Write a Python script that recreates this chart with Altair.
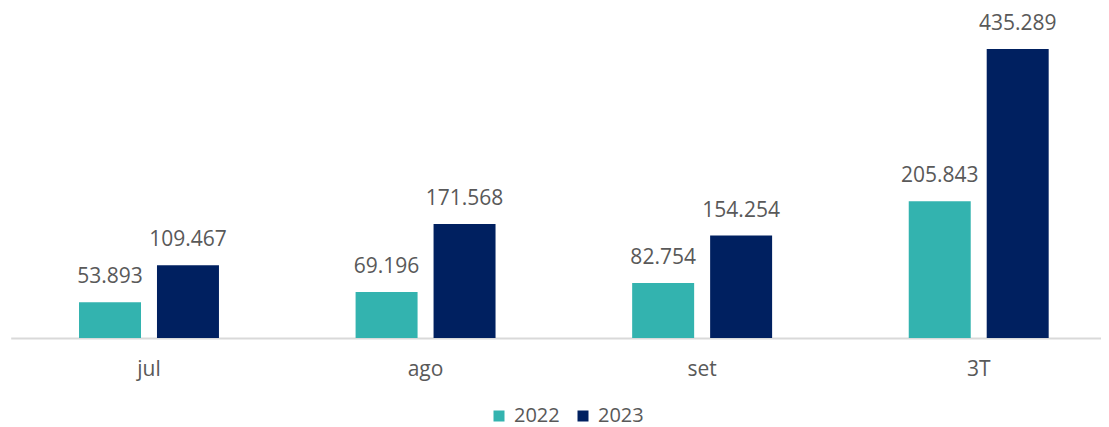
import altair as alt
import pandas as pd

categories = ["jul", "ago", "set", "3T"]
years = ["2022", "2023"]
values_2022 = [53893, 69196, 82754, 205843]
values_2023 = [109467, 171568, 154254, 435289]
colors = ["#33B3AF", "#002060"]

rows = []
for c, a, b in zip(categories, values_2022, values_2023):
    rows.append({"cat": c, "year": years[0], "value": a})
    rows.append({"cat": c, "year": years[1], "value": b})
df = pd.DataFrame(rows)

FONT = "Open Sans"
TXT = "#595959"

x = alt.X(
    "cat:N",
    sort=categories,
    title=None,
    scale=alt.Scale(range=[2.7, 1109], paddingInner=0.494, paddingOuter=0.247),
    axis=alt.Axis(
        labelAngle=0, ticks=False, labelPadding=20, labelFontSize=21,
        labelFont=FONT, labelColor=TXT, domainColor="#D9D9D9", domainWidth=2,
        grid=False,
    ),
)
xoff = alt.XOffset("year:N", sort=years, scale=alt.Scale(paddingInner=0.205, paddingOuter=0))
y = alt.Y("value:Q", scale=alt.Scale(domain=[0, 479000], nice=False, zero=True), axis=None)

base = alt.Chart(df).encode(x=x, xOffset=xoff, y=y)

bars = base.mark_bar().encode(
    color=alt.Color(
        "year:N", sort=years,
        scale=alt.Scale(domain=years, range=colors),
        legend=alt.Legend(
            title=None, orient="none", legendX=481, legendY=386,
            direction="horizontal", symbolType="square", symbolSize=121,
            symbolStrokeWidth=0, labelFontSize=20, labelFont=FONT,
            labelColor=TXT, labelOffset=5, columnPadding=13, padding=0,
        ),
    )
)

labels = base.transform_calculate(
    label="replace(format(datum.value, ','), ',', '.')"
).mark_text(
    baseline="alphabetic", dy=-19, fontSize=21, font=FONT, color=TXT
).encode(text="label:N")

chart = (bars + labels).properties(
    width=1093, height=318,
    autosize=alt.AutoSizeParams(type="none"),
    padding={"left": 0, "top": 12, "right": 0, "bottom": 89},
).configure_view(stroke=None)

chart.save("out.html", embed_options={"renderer": "svg", "actions": False})
